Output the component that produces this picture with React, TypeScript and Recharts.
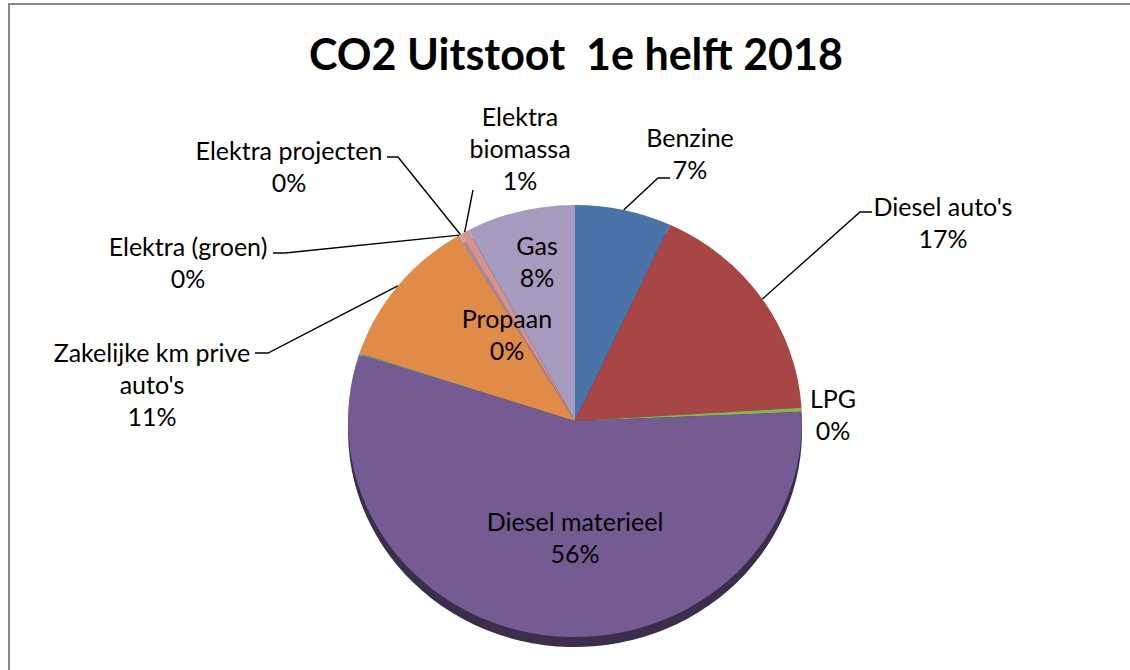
import React from "react";
import { PieChart, Pie, Cell } from "recharts";

const TITLE = "CO2 Uitstoot  1e helft 2018";

const CATEGORIES = [
  "Benzine",
  "Diesel auto's",
  "LPG",
  "Diesel materieel",
  "Propaan",
  "Zakelijke km prive auto's",
  "Elektra (groen)",
  "Elektra projecten",
  "Elektra biomassa",
  "Gas",
];

const VALUES = [6.9, 17.2, 0.3, 55.8, 0.1, 11.4, 0.1, 0.1, 0.6, 7.8];

const LABEL_LINES = [
  ["Benzine"],
  ["Diesel auto's"],
  ["LPG"],
  ["Diesel materieel"],
  ["Propaan"],
  ["Zakelijke km prive", "auto's"],
  ["Elektra (groen)"],
  ["Elektra projecten"],
  ["Elektra", "biomassa"],
  ["Gas"],
];

const COLORS = [
  "#4a74a9",
  "#a74644",
  "#8cb253",
  "#745c93",
  "#43a0b9",
  "#e08b47",
  "#8aa6d0",
  "#d6918f",
  "#d49290",
  "#a69bbf",
];

// label placement relative to the pie centre (layout, not data)
const LABEL_LAYOUT: { dx: number; dy: number; leader?: number[][] }[] = [
  { dx: 115, dy: -284, leader: [[83, -243], [95, -243]] },
  { dx: 368, dy: -215, leader: [[285, -209], [297, -209]] },
  { dx: 258, dy: -23 },
  { dx: 0, dy: 100 },
  { dx: -68, dy: -103 },
  { dx: -423, dy: -69, leader: [[-307, -68], [-320, -68]] },
  { dx: -387, dy: -175, leader: [[-290, -168], [-302, -168]] },
  { dx: -286, dy: -271, leader: [[-177, -264], [-188, -264]] },
  { dx: -55, dy: -305, leader: [[-102, -231]] },
  { dx: -38, dy: -176 },
];

const data = CATEGORIES.map((name, i) => ({ name, value: VALUES[i] }));

const CX = 575;
const CY = 421;
const R = 227;
const K = 0.952;
const LINE_H = 32;
const FONT = "Lato, 'Open Sans', sans-serif";

const renderLabel = (props: any) => {
  const { cx, cy, midAngle, outerRadius, percent, index } = props;
  const L = LABEL_LAYOUT[index];
  const lines = [...LABEL_LINES[index], `${Math.round(percent * 100)}%`];
  const tx = cx + L.dx;
  const ty = cy + L.dy;
  let leader = null;
  if (L.leader) {
    const rad = (midAngle * Math.PI) / 180;
    const ex = cx + outerRadius * Math.cos(rad);
    const ey = cy - outerRadius * K * Math.sin(rad);
    const pts = [[ex, ey], ...L.leader.map(([x, y]) => [cx + x, cy + y])];
    leader = (
      <polyline
        points={pts.map((p) => p.join(",")).join(" ")}
        fill="none"
        stroke="#000"
        strokeWidth={1.4}
      />
    );
  }
  return (
    <g key={`lbl-${index}`}>
      {leader}
      <text
        x={tx}
        y={ty}
        textAnchor="middle"
        dominantBaseline="central"
        fontFamily={FONT}
        fontSize={25}
        fill="#000"
      >
        {lines.map((t, i) => (
          <tspan key={i} x={tx} y={ty + i * LINE_H}>
            {t}
          </tspan>
        ))}
      </text>
    </g>
  );
};

const css = `
body { margin: 0; overflow: hidden; }
.pie-main .recharts-pie-sector { transform-origin: ${CX}px ${CY}px; transform: scaleY(${K}); }
.pie-rim .recharts-pie-sector { transform-origin: ${CX}px ${CY + 10}px; transform: scaleY(${K}); }
`;

export default function App() {
  return (
    <div style={{ position: "relative", width: 1130, height: 670, background: "#fff" }}>
      <style>{css}</style>
      <div
        style={{
          position: "absolute",
          left: 8,
          top: 3,
          width: 1200,
          height: 720,
          border: "2px solid #878787",
          boxSizing: "border-box",
        }}
      />
      <div
        style={{
          position: "absolute",
          left: 0,
          top: 24,
          width: 1152,
          textAlign: "center",
          whiteSpace: "pre",
          fontFamily: FONT,
          fontWeight: 700,
          fontSize: 43,
          lineHeight: "60px",
          color: "#000",
        }}
      >
        {TITLE}
      </div>
      <div style={{ position: "absolute", left: 0, top: 0 }}>
        <PieChart width={1130} height={670} margin={{ top: 0, right: 0, bottom: 0, left: 0 }}>
          <Pie
            className="pie-rim"
            data={data}
            dataKey="value"
            nameKey="name"
            cx={CX}
            cy={CY + 10}
            outerRadius={R}
            startAngle={90}
            endAngle={-270}
            stroke="none"
            isAnimationActive={false}
            label={false}
            labelLine={false}
          >
            {data.map((d, i) => (
              <Cell key={i} fill="#3a2e4c" />
            ))}
          </Pie>
          <Pie
            className="pie-main"
            data={data}
            dataKey="value"
            nameKey="name"
            cx={CX}
            cy={CY}
            outerRadius={R}
            startAngle={90}
            endAngle={-270}
            stroke="none"
            isAnimationActive={false}
            label={renderLabel}
            labelLine={false}
          >
            {data.map((d, i) => (
              <Cell key={i} fill={COLORS[i]} />
            ))}
          </Pie>
        </PieChart>
      </div>
    </div>
  );
}
